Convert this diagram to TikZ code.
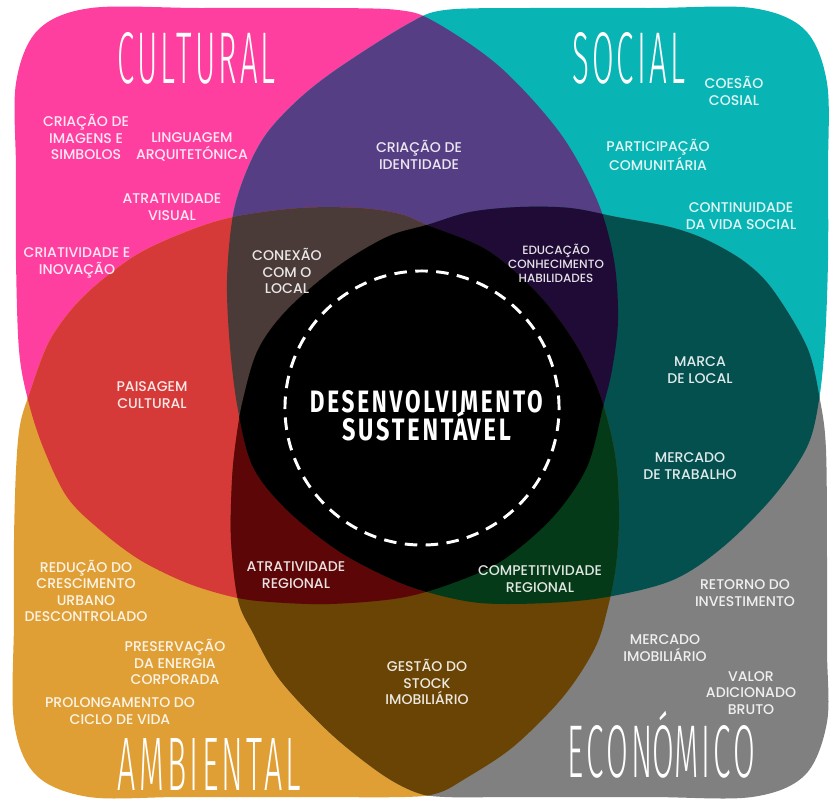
\documentclass[tikz,border=0pt]{standalone}
\usepackage{fontspec}
\usepackage{graphicx}
\IfFontExistsTF{Poppins Medium}{\setmainfont{Poppins Medium}}{\setmainfont{Poppins}}
\IfFontExistsTF{Fira Sans Light}{\newfontfamily\titlefont[LetterSpace=10]{Fira Sans Light}}{\newfontfamily\titlefont[LetterSpace=10]{Fira Sans}}
\newfontfamily\centrefont[LetterSpace=12]{Fira Sans}

\definecolor{cpink}{HTML}{FF3F9F}
\definecolor{cteal}{HTML}{08B4B4}
\definecolor{corange}{HTML}{DF9F35}
\definecolor{cgray}{HTML}{808080}
\definecolor{cpurple}{HTML}{553E84}
\definecolor{cred}{HTML}{D53A38}
\definecolor{cdteal}{HTML}{03504F}
\definecolor{cbrown}{HTML}{694404}
\definecolor{cconex}{HTML}{4A3B39}
\definecolor{ceduc}{HTML}{200B36}
\definecolor{catrat}{HTML}{5C0607}
\definecolor{ccomp}{HTML}{043A17}

\newlength\px
\setlength\px{0.025cm}

% the four shapes, in pixel units (y down)
\newcommand\cultshape{plot[smooth cycle,tension=0.55] coordinates {(16,83) (38,30) (91,8) (200,8) (320,8) (398,10) (435,22) (500,67) (560,133) (597,200) (614,260) (618,320) (612,370) (603,407) (587,467) (553,517) (503,560) (453,583) (400,598) (330,604) (270,602) (233,597) (187,583) (140,560) (100,530) (67,497) (43,447) (28,400) (19,350) (16,260) (16,170)}}
\newcommand\socshape{plot[smooth cycle,tension=0.55] coordinates {(445,10) (530,8) (650,8) (752,8) (805,30) (827,83) (828,170) (828,260) (825,340) (819,400) (807,447) (773,497) (723,547) (673,580) (607,597) (547,603) (480,603) (427,592) (387,577) (337,550) (287,510) (253,467) (238,410) (230,347) (227,280) (233,215) (247,170) (267,133) (300,98) (340,67) (408,24)}}
\newcommand\ambshape{plot[smooth cycle,tension=0.55] coordinates {(16,470) (20,425) (30,392) (50,340) (83,297) (133,257) (183,233) (233,217) (300,208) (360,208) (400,214) (427,225) (487,250) (537,293) (573,340) (597,387) (610,430) (617,470) (619,520) (616,565) (608,607) (595,648) (563,697) (513,747) (463,780) (438,793) (405,797) (300,797) (180,797) (89,797) (36,775) (14,722) (14,620) (14,540)}}
\newcommand\ecoshape{plot[smooth cycle,tension=0.55] coordinates {(243,400) (258,350) (287,310) (337,267) (387,237) (427,225) (470,212) (520,207) (570,208) (617,217) (670,227) (707,240) (745,262) (773,290) (807,347) (820,400) (826,450) (827,560) (827,650) (827,722) (805,775) (752,797) (650,797) (520,797) (445,797) (415,792) (380,773) (330,733) (280,680) (253,633) (238,600) (231,540) (232,480) (236,440)}}

\begin{document}
\begin{tikzpicture}[x=0.025cm, y=-0.025cm,
		lbl/.style={align=center, text=white, text opacity=0.88, inner sep=0pt, font=\fontsize{10}{11.7}\selectfont},
		lblsmall/.style={lbl, font=\fontsize{8.5}{10}\selectfont},
		titlelbl/.style={text=white, inner sep=0pt, anchor=base},
		centrelbl/.style={text=white, inner sep=0pt, anchor=base}
	]
	\useasboundingbox (0,0) rectangle (840,803);
	\fill[white] (0,0) rectangle (840,803);

	\fill[cpink] \cultshape;
	\fill[cteal] \socshape;
	\fill[corange] \ambshape;
	\fill[cgray] \ecoshape;

	% two at a time
	\begin{scope}
		\clip \cultshape;
		\fill[cpurple] \socshape;
		\fill[cred] \ambshape;
	\end{scope}
	\begin{scope}
		\clip \ecoshape;
		\fill[cdteal] \socshape;
		\fill[cbrown] \ambshape;
	\end{scope}

	% three at a time
	\begin{scope}
		\clip \cultshape; \clip \socshape;
		\fill[cconex] \ambshape;
		\fill[ceduc] \ecoshape;
	\end{scope}
	\begin{scope}
		\clip \ambshape; \clip \ecoshape;
		\fill[catrat] \cultshape;
		\fill[ccomp] \socshape;
	\end{scope}

	% all four
	\begin{scope}
		\clip \cultshape; \clip \socshape; \clip \ambshape;
		\fill[black] \ecoshape;
	\end{scope}

	\coordinate (mid) at (422,408);
	\draw[white, line width=2.1pt, dash pattern=on 8.9pt off 6pt] (mid) circle[radius=3.425cm];

	\node[centrelbl] (desenv) at (425,412) {\resizebox{230\px}{22\px}{\centrefont\bfseries DESENVOLVIMENTO\kern-0.12em}};
	\node[centrelbl] (sustent) at (425,440) {\resizebox{166\px}{22\px}{\centrefont\bfseries SUSTENT\smash{Á}VEL\kern-0.12em}};

	\node[titlelbl] (cultural) at (195,83) {\resizebox{155\px}{51\px}{\titlefont CULTURAL\kern-0.1em}};
	\node[titlelbl] (social) at (627,83) {\resizebox{110\px}{51\px}{\titlefont SOCIAL\kern-0.1em}};
	\node[titlelbl] (ambiental) at (208,790) {\resizebox{180\px}{52\px}{\titlefont AMBIENTAL\kern-0.1em}};
	\node[titlelbl] (economico) at (660,777) {\resizebox{185\px}{52\px}{\titlefont ECON\smash{Ó}MICO\kern-0.1em}};

	\node[lbl] (imagens) at (86,137) {CRIAÇÃO DE\\IMAGENS E\\SIMBOLOS};
	\node[lbl] (linguagem) at (192,147) {LINGUAGEM\\ARQUITETÓNICA};
	\node[lbl] (visual) at (172,207) {ATRATIVIDADE\\VISUAL};
	\node[lbl] (inovacao) at (77,263) {CRIATIVIDADE E\\INOVAÇÃO};
	\node[lbl] (conexao) at (287,271) {CONEXÃO\\COM O\\LOCAL};
	\node[lbl] (paisagem) at (152,395) {PAISAGEM\\CULTURAL};
	\node[lbl] (identidade) at (419,155) {CRIAÇÃO DE\\IDENTIDADE};

	\node[lbl] (coesao) at (734,91) {COESÃO\\COSIAL};
	\node[lbl] (participacao) at (658,155) {PARTICIPAÇÃO\\COMUNITÁRIA};
	\node[lbl] (continuidade) at (741,216) {CONTINUIDADE\\DA VIDA SOCIAL};
	\node[lblsmall] (educacao) at (556,263) {EDUCAÇÃO\\CONHECIMENTO\\HABILIDADES};
	\node[lbl] (marca) at (700,370) {MARCA\\DE LOCAL};
	\node[lbl] (trabalho) at (690,466) {MERCADO\\DE TRABALHO};

	\node[lbl] (reducao) at (86,591) {REDUÇÃO DO\\CRESCIMENTO\\URBANO\\DESCONTROLADO};
	\node[lbl] (energia) at (175,662) {PRESERVAÇÃO\\DA ENERGIA\\CORPORADA};
	\node[lbl] (ciclo) at (120,711) {PROLONGAMENTO DO\\CICLO DE VIDA};
	\node[lbl] (atratreg) at (296,575) {ATRATIVIDADE\\REGIONAL};
	\node[lbl] (stock) at (427,682) {GESTÃO DO\\STOCK\\IMOBILIÁRIO};
	\node[lbl] (compet) at (540,579) {COMPETITIVIDADE\\REGIONAL};

	\node[lbl] (retorno) at (745,593) {RETORNO DO\\INVESTIMENTO};
	\node[lbl] (imobiliario) at (665,648) {MERCADO\\IMOBILIÁRIO};
	\node[lbl] (valor) at (751,693) {VALOR\\ADICIONADO\\BRUTO};
\end{tikzpicture}
\end{document}
